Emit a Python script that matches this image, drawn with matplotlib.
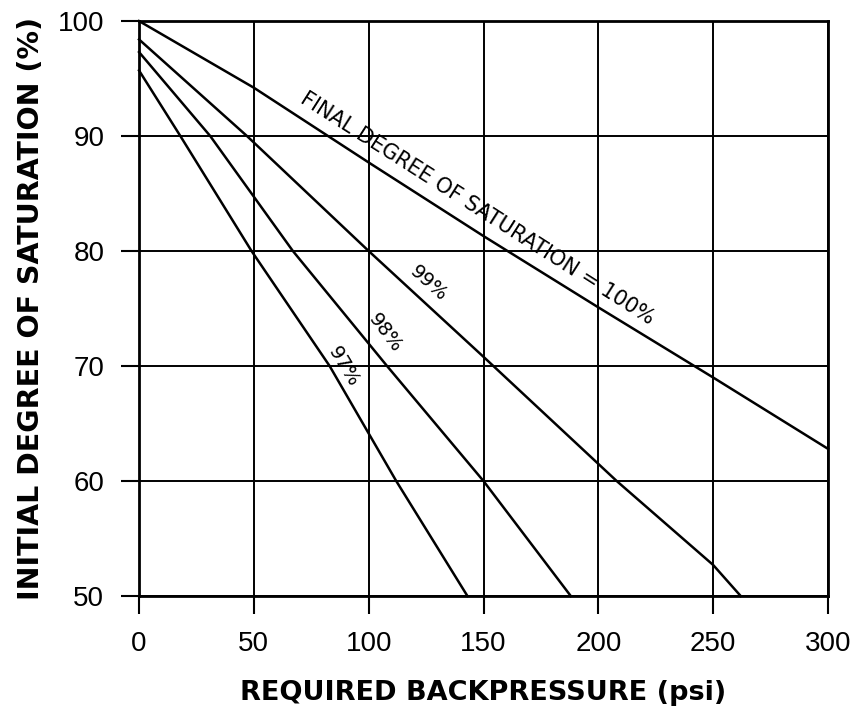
import numpy as np
import matplotlib
matplotlib.use('Agg')
import matplotlib.pyplot as plt

# curves: backpressure (psi) vs initial saturation (%)
psi_100 = [0, 50, 100, 150, 200, 250, 300]
sat_100 = [100.0, 94.2, 87.7, 81.3, 75.1, 69.0, 62.8]

psi_99 = [0, 47, 100, 150, 208, 250, 262]
sat_99 = [98.4, 90.0, 80.0, 70.8, 60.0, 52.7, 50.0]

psi_98 = [0, 31, 67, 108, 150, 188]
sat_98 = [97.3, 90.0, 80.0, 70.0, 60.0, 50.0]

psi_97 = [0, 18, 49, 83, 112, 143]
sat_97 = [95.7, 90.0, 80.0, 70.0, 60.0, 50.0]

xticks = [0, 50, 100, 150, 200, 250, 300]
yticks = [50, 60, 70, 80, 90, 100]

fig = plt.figure(figsize=(8.55, 7.2), dpi=100)
ax = fig.add_axes([0.1626, 0.1722, 0.8058, 0.7986])

ax.grid(True, color='k', lw=1.4)
ax.set_axisbelow(True)
for x, y in [(psi_100, sat_100), (psi_99, sat_99), (psi_98, sat_98), (psi_97, sat_97)]:
    ax.plot(x, y, color='k', lw=1.8, clip_on=False)

ax.text(147.2, 83.7, 'FINAL DEGREE OF SATURATION = 100%', rotation=-32.5, fontsize=15,
        ha='center', va='center')
ax.text(126, 77.2, '99%', rotation=-42, fontsize=14, ha='center', va='center')
ax.text(107, 72.9, '98%', rotation=-53, fontsize=14, ha='center', va='center')
ax.text(89, 69.9, '97%', rotation=-59, fontsize=14, ha='center', va='center')

ax.set_xlim(0, 300)
ax.set_ylim(50, 100)
ax.set_xticks(xticks)
ax.set_yticks(yticks)
ax.tick_params(direction='out', length=13, width=1.5, labelsize=20, pad=12)
for lab in ax.get_xticklabels() + ax.get_yticklabels():
    lab.set_family('Liberation Sans')
for s in ax.spines.values():
    s.set_linewidth(2)
ax.set_xlabel('REQUIRED BACKPRESSURE (psi)', fontsize=19.5, fontweight='bold', labelpad=17)
ax.set_ylabel('INITIAL DEGREE OF SATURATION (%)', fontsize=20.5, fontweight='bold', labelpad=9)

fig.savefig('out.png', dpi=100)
